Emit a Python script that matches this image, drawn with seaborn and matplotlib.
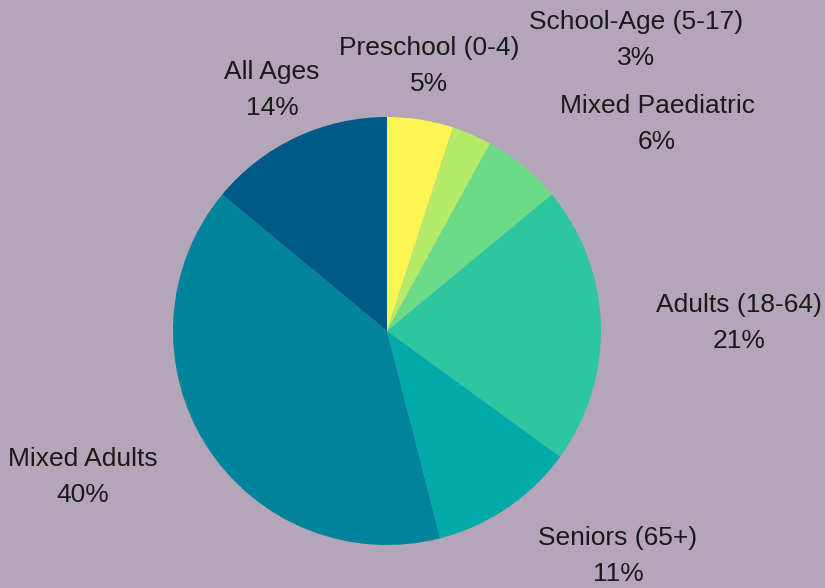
import matplotlib
matplotlib.use("Agg")
import matplotlib.pyplot as plt
import seaborn as sns

sns.set_theme(style="white")
plt.rcParams['font.family'] = ['Liberation Sans', 'DejaVu Sans']

categories = ["Preschool (0-4)", "School-Age (5-17)", "Mixed Paediatric",
              "Adults (18-64)", "Seniors (65+)", "Mixed Adults", "All Ages"]
values = [5, 3, 6, 21, 11, 40, 14]
colors = ["#fff552", "#b4ea68", "#6cdb87", "#2dc69e", "#00aaa8", "#00849b", "#005a87"]
# label centre positions in pixels (layout)
label_px = [(429, 66), (636, 40), (657, 124), (739, 323), (618, 556), (83, 477), (272, 90)]

W, H = 825, 588
bg = "#b4a5b8"
fig = plt.figure(figsize=(W / 100, H / 100), dpi=100, facecolor=bg)
ax = fig.add_axes([0, 0, 1, 1])
ax.set_facecolor(bg)

cx, cy, r = 387, 331, 214
ax.pie(values, colors=colors, startangle=90, counterclock=False, radius=1,
       wedgeprops=dict(linewidth=0))
ax.set_xlim(-cx / r, (W - cx) / r)
ax.set_ylim(-(H - cy) / r, cy / r)
ax.set_aspect('equal')
ax.axis('off')

total = sum(values)
for cat, v, (px, py) in zip(categories, values, label_px):
    fig.text(px / W, 1 - py / H, f"{cat}\n{round(100 * v / total)}%",
             ha='center', va='center', fontsize=19, color='#1a1a1a',
             linespacing=1.65)

fig.savefig("out.png", dpi=100, facecolor=bg)
